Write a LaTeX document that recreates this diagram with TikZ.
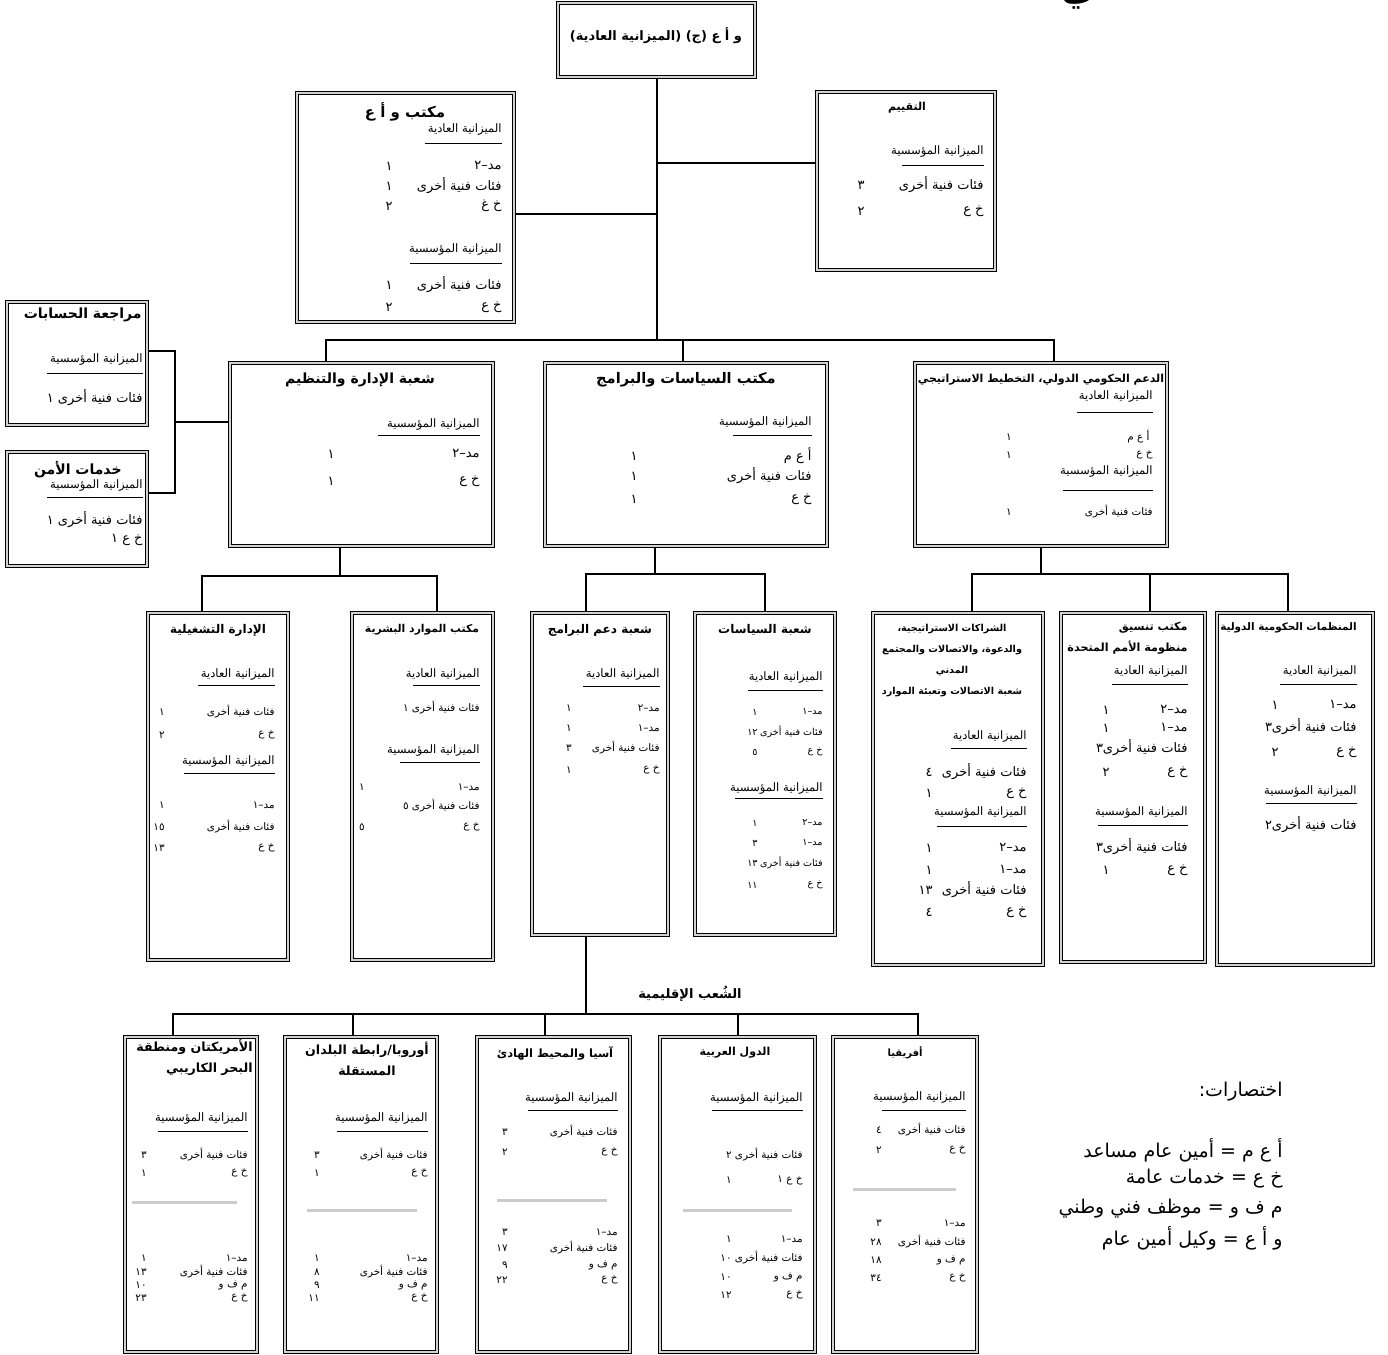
\documentclass[tikz,border=0pt]{standalone}
\usepackage{fontspec}
\newfontfamily\arabicfont[Script=Arabic]{DejaVu Sans}
\TeXXeTstate=1
\usetikzlibrary{calc,fit}

% one budget line: [style]{name}{y}{x label}{label}{x number}{number}
\newcommand{\rw}[7][rowa]{%
  \node[#1] (#2) at (#4,#3) {#5};
  \node[#1] (#2n) at (#6,#3) {\beginR #7\endR};}

\tikzset{
  box/.style={draw, line width=0.7pt, double=gray!35, double distance=1pt, inner sep=0pt},
  ttl/.style={font=\arabicfont\bfseries\fontsize{#1}{10.5}\selectfont, inner sep=0pt},
  ttl/.default=6,
  hd/.style={font=\arabicfont\fontsize{5.8}{7}\selectfont, inner sep=0pt, anchor=east},
  rowa/.style={font=\arabicfont\fontsize{6.5}{8}\selectfont, inner sep=0pt, anchor=east},
  rowb/.style={font=\arabicfont\fontsize{5.2}{7}\selectfont, inner sep=0pt, anchor=east},
  rowc/.style={font=\arabicfont\fontsize{4.8}{6}\selectfont, inner sep=0pt, anchor=east},
  legend/.style={font=\arabicfont\fontsize{9.5}{12}\selectfont, inner sep=0pt, anchor=east},
  link/.style={line width=1pt},
  uline/.style={line width=0.5pt},
  gline/.style={line width=1.5pt, gray!40},
}

\begin{document}
\begin{tikzpicture}[x=0.5pt, y=-0.5pt]
  \useasboundingbox (0,0) rectangle (1388,1355);

  % title cut at the top edge
  \node[ttl=18, anchor=base] (cut) at (1078,0) {\beginR ي\endR};

  % top
  \node[box, fit={(558,3) (755,77)}] (usg) {};
  \node[ttl=6.5] (usgT) at (656,36) {\beginR و أ ع (ج) (الميزانية العادية)\endR};

  % office of the USG
  \node[box, fit={(297,93) (514,322)}] (ousg) {};
  \node[ttl=7.5] (ousgT) at (405,112) {\beginR مكتب و أ ع\endR};
  \node[hd] (ousgA) at (502,130) {\beginR الميزانية العادية\endR};
  \draw[uline] (425,143) -- (502,143);
  \rw{ousg1}{166}{502}{\beginR مد–٢\endR}{393}{١}
  \rw{ousg2}{186}{502}{\beginR فئات فنية أخرى\endR}{393}{١}
  \rw{ousg3}{206}{502}{\beginR خ غ\endR}{393}{٢}
  \node[hd] (ousgB) at (502,250) {\beginR الميزانية المؤسسية\endR};
  \draw[uline] (410,263) -- (502,263);
  \rw{ousg4}{285}{502}{\beginR فئات فنية أخرى\endR}{393}{١}
  \rw{ousg5}{307}{502}{\beginR خ ع\endR}{393}{٢}

  % evaluation
  \node[box, fit={(817,92) (995,270)}] (eval) {};
  \node[ttl=5.5] (evalT) at (907,108) {\beginR التقييم\endR};
  \node[hd] (evalB) at (984,152) {\beginR الميزانية المؤسسية\endR};
  \draw[uline] (902,165) -- (984,165);
  \rw{eval1}{185}{984}{\beginR فئات فنية أخرى\endR}{865}{٣}
  \rw{eval2}{211}{984}{\beginR خ ع\endR}{865}{٢}

  % audit and security
  \node[box, fit={(7,302) (147,425)}] (audit) {};
  \node[ttl=7, anchor=east] (auditT) at (142,315) {\beginR مراجعة الحسابات\endR};
  \node[hd] (auditB) at (143,360) {\beginR الميزانية المؤسسية\endR};
  \draw[uline] (47,373) -- (143,373);
  \node[rowa] (audit1) at (143,398) {\beginR فئات فنية أخرى ١\endR};

  \node[box, fit={(7,452) (147,566)}] (secu) {};
  \node[ttl=7, anchor=east] (secuT) at (122,470) {\beginR خدمات الأمن\endR};
  \node[hd] (secuB) at (143,486) {\beginR الميزانية المؤسسية\endR};
  \draw[uline] (47,497) -- (143,497);
  \node[rowa] (secu1) at (143,520) {\beginR فئات فنية أخرى ١\endR};
  \node[rowa] (secu2) at (143,540) {\beginR خ ع ١\endR};

  % second row
  \node[box, fit={(230,363) (493,546)}] (dmo) {};
  \node[ttl=7] (dmoT) at (360,380) {\beginR شعبة الإدارة والتنظيم\endR};
  \node[hd] (dmoB) at (480,425) {\beginR الميزانية المؤسسية\endR};
  \draw[uline] (378,435) -- (480,435);
  \rw{dmo1}{454}{480}{\beginR مد–٢\endR}{335}{١}
  \rw{dmo2}{481}{480}{\beginR خ ع\endR}{335}{١}

  \node[box, fit={(545,363) (827,546)}] (pol) {};
  \node[ttl=7.3] (polT) at (686,380) {\beginR مكتب السياسات والبرامج\endR};
  \node[hd] (polB) at (812,423) {\beginR الميزانية المؤسسية\endR};
  \draw[uline] (733,435) -- (812,435);
  \rw{pol1}{456}{812}{\beginR أ ع م\endR}{638}{١}
  \rw{pol2}{476}{812}{\beginR فئات فنية أخرى\endR}{638}{١}
  \rw{pol3}{499}{812}{\beginR خ ع\endR}{638}{١}

  \node[box, fit={(915,363) (1167,546)}] (igs) {};
  \node[ttl=5.5] (igsT) at (1041,380) {\beginR الدعم الحكومي الدولي، التخطيط الاستراتيجي\endR};
  \node[hd] (igsA) at (1153,397) {\beginR الميزانية العادية\endR};
  \draw[uline] (1077,412) -- (1153,412);
  \rw[rowb]{igs1}{437}{1150}{\beginR أ ع م\endR}{1012}{١}
  \rw[rowb]{igs2}{455}{1153}{\beginR خ ع\endR}{1012}{١}
  \node[hd] (igsB) at (1153,472) {\beginR الميزانية المؤسسية\endR};
  \draw[uline] (1063,490) -- (1153,490);
  \rw[rowb]{igs3}{512}{1153}{\beginR فئات فنية أخرى\endR}{1012}{١}

  % third row
  \node[box, fit={(148,613) (288,960)}] (opm) {};
  \node[ttl=6] (opmT) at (218,630) {\beginR الإدارة التشغيلية\endR};
  \node[hd] (opmA) at (275,675) {\beginR الميزانية العادية\endR};
  \draw[uline] (198,685) -- (275,685);
  \rw[rowb]{opm1}{712}{275}{\beginR فئات فنية أخرى\endR}{165}{١}
  \rw[rowb]{opm2}{735}{275}{\beginR خ ع\endR}{165}{٢}
  \node[hd] (opmB) at (275,762) {\beginR الميزانية المؤسسية\endR};
  \draw[uline] (184,773) -- (275,773);
  \rw[rowb]{opm3}{805}{275}{\beginR مد–١\endR}{165}{١}
  \rw[rowb]{opm4}{827}{275}{\beginR فئات فنية أخرى\endR}{165}{١٥}
  \rw[rowb]{opm5}{848}{275}{\beginR خ ع\endR}{165}{١٣}

  \node[box, fit={(352,613) (493,960)}] (hr) {};
  \node[ttl=5.4] (hrT) at (422,630) {\beginR مكتب الموارد البشرية\endR};
  \node[hd] (hrA) at (480,675) {\beginR الميزانية العادية\endR};
  \draw[uline] (413,685) -- (480,685);
  \node[rowb] (hr1) at (480,708) {\beginR فئات فنية أخرى ١\endR};
  \node[hd] (hrB) at (480,750) {\beginR الميزانية المؤسسية\endR};
  \draw[uline] (400,762) -- (480,762);
  \rw[rowb]{hr2}{787}{480}{\beginR مد–١\endR}{365}{١}
  \node[rowb] (hr3) at (480,806) {\beginR فئات فنية أخرى ٥\endR};
  \rw[rowb]{hr4}{827}{480}{\beginR خ ع\endR}{365}{٥}

  \node[box, fit={(532,613) (668,935)}] (psb) {};
  \node[ttl=6] (psbT) at (600,630) {\beginR شعبة دعم البرامج\endR};
  \node[hd] (psbA) at (660,675) {\beginR الميزانية العادية\endR};
  \draw[uline] (583,686) -- (660,686);
  \rw[rowb]{psb1}{708}{660}{\beginR مد–٢\endR}{572}{١}
  \rw[rowb]{psb2}{728}{660}{\beginR مد–١\endR}{572}{١}
  \rw[rowb]{psb3}{748}{660}{\beginR فئات فنية أخرى\endR}{572}{٣}
  \rw[rowb]{psb4}{770}{660}{\beginR خ ع\endR}{572}{١}

  \node[box, fit={(695,613) (835,935)}] (pd) {};
  \node[ttl=6] (pdT) at (765,630) {\beginR شعبة السياسات\endR};
  \node[hd] (pdA) at (823,678) {\beginR الميزانية العادية\endR};
  \draw[uline] (748,690) -- (823,690);
  \rw[rowc]{pd1}{712}{823}{\beginR مد–١\endR}{758}{١}
  \rw[rowc]{pd2}{732}{823}{\beginR فئات فنية أخرى\endR}{758}{١٢}
  \rw[rowc]{pd3}{752}{823}{\beginR خ ع\endR}{758}{٥}
  \node[hd] (pdB) at (823,788) {\beginR الميزانية المؤسسية\endR};
  \draw[uline] (735,798) -- (823,798);
  \rw[rowc]{pd4}{823}{823}{\beginR مد–٢\endR}{758}{١}
  \rw[rowc]{pd5}{843}{823}{\beginR مد–١\endR}{758}{٣}
  \rw[rowc]{pd6}{863}{823}{\beginR فئات فنية أخرى\endR}{758}{١٣}
  \rw[rowc]{pd7}{885}{823}{\beginR خ ع\endR}{758}{١١}

  \node[box, fit={(873,613) (1043,965)}] (scp) {};
  \node[ttl=4.8, align=center] (scpT) at (952,661) {\beginR الشراكات الاستراتيجية،\endR\\\beginR والدعوة، والاتصالات والمجتمع\endR\\\beginR المدني\endR\\\beginR شعبة الاتصالات وتعبئة الموارد\endR};
  \node[hd] (scpA) at (1027,737) {\beginR الميزانية العادية\endR};
  \draw[uline] (951,748) -- (1027,748);
  \rw{scp1}{772}{1027}{\beginR فئات فنية أخرى\endR}{933}{٤}
  \rw{scp2}{793}{1027}{\beginR خ ع\endR}{933}{١}
  \node[hd] (scpB) at (1027,813) {\beginR الميزانية المؤسسية\endR};
  \draw[uline] (937,826) -- (1027,826);
  \rw{scp3}{848}{1027}{\beginR مد–٢\endR}{933}{١}
  \rw{scp4}{870}{1027}{\beginR مد–١\endR}{933}{١}
  \rw{scp5}{890}{1027}{\beginR فئات فنية أخرى\endR}{933}{١٣}
  \rw{scp6}{912}{1027}{\beginR خ ع\endR}{933}{٤}

  \node[box, fit={(1061,613) (1205,962)}] (unsco) {};
  \node[ttl=5.6, align=right, anchor=east] (unscoT) at (1188,638) {\beginR مكتب تنسيق\endR\\\beginR منظومة الأمم المتحدة\endR};
  \node[hd] (unscoA) at (1188,672) {\beginR الميزانية العادية\endR};
  \draw[uline] (1112,684) -- (1188,684);
  \rw{unsco1}{710}{1188}{\beginR مد–٢\endR}{1110}{١}
  \rw{unsco2}{728}{1188}{\beginR مد–١\endR}{1110}{١}
  \node[rowa] (unsco3) at (1188,748) {\beginR فئات فنية أخرى٣\endR};
  \rw{unsco4}{772}{1188}{\beginR خ ع\endR}{1110}{٢}
  \node[hd] (unscoB) at (1188,813) {\beginR الميزانية المؤسسية\endR};
  \draw[uline] (1098,825) -- (1188,825);
  \node[rowa] (unsco5) at (1188,847) {\beginR فئات فنية أخرى٣\endR};
  \rw{unsco6}{870}{1188}{\beginR خ ع\endR}{1110}{١}

  \node[box, fit={(1217,613) (1373,965)}] (igo) {};
  \node[ttl=5.2, anchor=east] (igoT) at (1357,628) {\beginR المنظمات الحكومية الدولية\endR};
  \node[hd] (igoA) at (1357,672) {\beginR الميزانية العادية\endR};
  \draw[uline] (1280,684) -- (1357,684);
  \rw{igo1}{705}{1357}{\beginR مد–١\endR}{1279}{١}
  \node[rowa] (igo2) at (1357,727) {\beginR فئات فنية أخرى٣\endR};
  \rw{igo3}{752}{1357}{\beginR خ ع\endR}{1279}{٢}
  \node[hd] (igoB) at (1357,792) {\beginR الميزانية المؤسسية\endR};
  \draw[uline] (1266,803) -- (1357,803);
  \node[rowa] (igo4) at (1357,825) {\beginR فئات فنية أخرى٢\endR};

  % regional divisions
  \node[ttl=6.5] (regT) at (690,994) {\beginR الشُعب الإقليمية\endR};

  \node[box, fit={(125,1037) (257,1352)}] (amer) {};
  \node[ttl=6.3, align=right, anchor=east] (amerT) at (253,1058) {\beginR الأمريكتان ومنطقة\endR\\\beginR البحر الكاريبي\endR};
  \node[hd] (amerB) at (248,1118) {\beginR الميزانية المؤسسية\endR};
  \draw[uline] (158,1131) -- (248,1131);
  \rw[rowb]{amer1}{1155}{248}{\beginR فئات فنية أخرى\endR}{147}{٣}
  \rw[rowb]{amer2}{1173}{248}{\beginR خ ع\endR}{147}{١}
  \draw[gline] (132,1202) -- (237,1202);
  \rw[rowb]{amer3}{1258}{248}{\beginR مد–١\endR}{147}{١}
  \rw[rowb]{amer4}{1272}{248}{\beginR فئات فنية أخرى\endR}{147}{١٣}
  \rw[rowb]{amer5}{1285}{248}{\beginR م ف و\endR}{147}{١٠}
  \rw[rowb]{amer6}{1298}{248}{\beginR خ ع\endR}{147}{٢٣}

  \node[box, fit={(285,1037) (437,1352)}] (euro) {};
  \node[ttl=6.3, align=center] (euroT) at (367,1059) {\beginR أوروبا/رابطة البلدان\endR\\\beginR المستقلة\endR};
  \node[hd] (euroB) at (428,1118) {\beginR الميزانية المؤسسية\endR};
  \draw[uline] (337,1131) -- (428,1131);
  \rw[rowb]{euro1}{1155}{428}{\beginR فئات فنية أخرى\endR}{320}{٣}
  \rw[rowb]{euro2}{1173}{428}{\beginR خ ع\endR}{320}{١}
  \draw[gline] (307,1210) -- (417,1210);
  \rw[rowb]{euro3}{1258}{428}{\beginR مد–١\endR}{320}{١}
  \rw[rowb]{euro4}{1272}{428}{\beginR فئات فنية أخرى\endR}{320}{٨}
  \rw[rowb]{euro5}{1285}{428}{\beginR م ف و\endR}{320}{٩}
  \rw[rowb]{euro6}{1298}{428}{\beginR خ ع\endR}{320}{١١}

  \node[box, fit={(477,1037) (630,1352)}] (asia) {};
  \node[ttl=5.7] (asiaT) at (555,1053) {\beginR آسيا والمحيط الهادئ\endR};
  \node[hd] (asiaB) at (618,1098) {\beginR الميزانية المؤسسية\endR};
  \draw[uline] (528,1110) -- (618,1110);
  \rw[rowb]{asia1}{1132}{618}{\beginR فئات فنية أخرى\endR}{508}{٣}
  \rw[rowb]{asia2}{1152}{618}{\beginR خ ع\endR}{508}{٢}
  \draw[gline] (497,1200) -- (607,1200);
  \rw[rowb]{asia3}{1232}{618}{\beginR مد–١\endR}{508}{٣}
  \rw[rowb]{asia4}{1248}{618}{\beginR فئات فنية أخرى\endR}{508}{١٧}
  \rw[rowb]{asia5}{1265}{618}{\beginR م ف و\endR}{508}{٩}
  \rw[rowb]{asia6}{1280}{618}{\beginR خ ع\endR}{508}{٢٢}

  \node[box, fit={(660,1037) (815,1352)}] (arab) {};
  \node[ttl=5.5] (arabT) at (735,1053) {\beginR الدول العربية\endR};
  \node[hd] (arabB) at (803,1098) {\beginR الميزانية المؤسسية\endR};
  \draw[uline] (712,1110) -- (803,1110);
  \rw[rowb]{arab1}{1155}{803}{\beginR فئات فنية أخرى\endR}{732}{٢}
  \rw[rowb]{arab2}{1180}{803}{\beginR خ ع ١\endR}{732}{١}
  \draw[gline] (683,1210) -- (792,1210);
  \rw[rowb]{arab3}{1239}{803}{\beginR مد–١\endR}{732}{١}
  \rw[rowb]{arab4}{1258}{803}{\beginR فئات فنية أخرى\endR}{732}{١٠}
  \rw[rowb]{arab5}{1277}{803}{\beginR م ف و\endR}{732}{١٠}
  \rw[rowb]{arab6}{1295}{803}{\beginR خ ع\endR}{732}{١٢}

  \node[box, fit={(833,1037) (977,1352)}] (afr) {};
  \node[ttl=5] (afrT) at (905,1053) {\beginR أفريقيا\endR};
  \node[hd] (afrB) at (966,1097) {\beginR الميزانية المؤسسية\endR};
  \draw[uline] (882,1110) -- (966,1110);
  \rw[rowb]{afr1}{1130}{966}{\beginR فئات فنية أخرى\endR}{882}{٤}
  \rw[rowb]{afr2}{1150}{966}{\beginR خ ع\endR}{882}{٢}
  \draw[gline] (853,1189) -- (956,1189);
  \rw[rowb]{afr3}{1223}{966}{\beginR مد–١\endR}{882}{٣}
  \rw[rowb]{afr4}{1242}{966}{\beginR فئات فنية أخرى\endR}{882}{٢٨}
  \rw[rowb]{afr5}{1260}{966}{\beginR م ف و\endR}{882}{١٨}
  \rw[rowb]{afr6}{1278}{966}{\beginR خ ع\endR}{882}{٣٤}

  % abbreviations
  \node[legend] (abbr) at (1283,1092) {\beginR اختصارات:\endR};
  \node[legend] (abbr1) at (1283,1150) {\beginR أ ع م = أمين عام مساعد\endR};
  \node[legend] (abbr2) at (1283,1179) {\beginR خ ع = خدمات عامة\endR};
  \node[legend] (abbr3) at (1283,1209) {\beginR م ف و = موظف فني وطني\endR};
  \node[legend] (abbr4) at (1283,1238) {\beginR و أ ع = وكيل أمين عام\endR};

  % connectors, top level
  \coordinate (b1) at (656,340);
  \draw[link] (usg) -- (usg |- b1);
  \coordinate (ousgR) at ($(ousg.north east)!.53!(ousg.south east)$);
  \draw[link] (ousgR) -- (ousgR -| usg);
  \coordinate (evalL) at ($(eval.north west)!.4!(eval.south west)$);
  \draw[link] (evalL) -- (evalL -| usg);
  \coordinate (dmoU) at ($(dmo.north west)!.365!(dmo.north east)$);
  \coordinate (polU) at ($(pol.north west)!.49!(pol.north east)$);
  \coordinate (igsU) at ($(igs.north west)!.55!(igs.north east)$);
  \draw[link] (dmoU) |- (b1) -| (igsU);
  \draw[link] (polU) -- (polU |- b1);

  % audit and security to management
  \coordinate (auditR) at ($(audit.north east)!.4!(audit.south east)$);
  \coordinate (secuR) at ($(secu.north east)!.36!(secu.south east)$);
  \coordinate (b0) at (175,422);
  \draw[link] (auditR) -| (b0) |- (secuR);
  \draw[link] (b0) -- (b0 -| dmo.west);

  % second level
  \coordinate (dmoD) at ($(dmo.south west)!.42!(dmo.south east)$);
  \coordinate (b2) at (340,576);
  \coordinate (opmU) at ($(opm.north west)!.39!(opm.north east)$);
  \coordinate (hrU) at ($(hr.north west)!.6!(hr.north east)$);
  \draw[link] (dmoD) -- (dmoD |- b2);
  \draw[link] (opmU) |- (b2) -| (hrU);

  \coordinate (polD) at ($(pol.south west)!.39!(pol.south east)$);
  \coordinate (b3) at (655,574);
  \coordinate (psbU) at ($(psb.north west)!.4!(psb.north east)$);
  \draw[link] (polD) -- (polD |- b3);
  \draw[link] (psbU) |- (b3) -| (pd.north);

  \coordinate (b4) at (1041,574);
  \coordinate (scpU) at ($(scp.north west)!.58!(scp.north east)$);
  \coordinate (unscoU) at ($(unsco.north west)!.62!(unsco.north east)$);
  \coordinate (igoU) at ($(igo.north west)!.455!(igo.north east)$);
  \draw[link] (igs.south) -- (igs.south |- b4);
  \draw[link] (scpU) |- (b4) -| (igoU);
  \draw[link] (unscoU) -- (unscoU |- b4);

  % regional divisions
  \coordinate (psbD) at ($(psb.south west)!.4!(psb.south east)$);
  \coordinate (b5) at (586,1014);
  \coordinate (amerU) at ($(amer.north west)!.364!(amer.north east)$);
  \coordinate (euroU) at ($(euro.north west)!.45!(euro.north east)$);
  \coordinate (asiaU) at ($(asia.north west)!.445!(asia.north east)$);
  \coordinate (afrU) at ($(afr.north west)!.59!(afr.north east)$);
  \draw[link] (psbD) -- (psbD |- b5);
  \draw[link] (amerU) |- (b5) -| (afrU);
  \draw[link] (euroU) -- (euroU |- b5);
  \draw[link] (asiaU) -- (asiaU |- b5);
  \draw[link] (arab.north) -- (arab.north |- b5);
\end{tikzpicture}
\end{document}
